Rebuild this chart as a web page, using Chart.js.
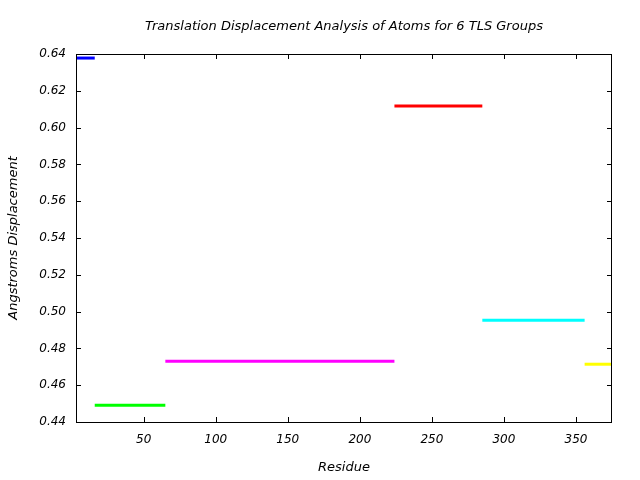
<!DOCTYPE html>
<html>
<head>
<meta charset="utf-8">
<script src="https://cdn.jsdelivr.net/npm/chart.js@4/dist/chart.umd.min.js"></script>
<style>
  html, body { margin: 0; padding: 0; background: #fff; }
  #chart { display: block; }
</style>
</head>
<body>
<canvas id="chart" width="640" height="480"></canvas>
<script>
// TLS group segments: residue range and displacement
const groupStart = [3, 16, 65, 224, 285, 356];
const groupEnd = [16, 65, 224, 285, 356, 375];
const displacement = [0.6378, 0.4491, 0.4730, 0.6117, 0.4953, 0.4714];
const groupColors = ['#0000ff', '#00ff00', '#ff00ff', '#ff0000', '#00ffff', '#ffff00'];

const xTicks = [50, 100, 150, 200, 250, 300, 350];
const yTicks = [0.44, 0.46, 0.48, 0.50, 0.52, 0.54, 0.56, 0.58, 0.60, 0.62, 0.64];

const titleText = 'Translation Displacement Analysis of Atoms for 6 TLS Groups';
const FONT = "'DejaVu Sans', sans-serif";

const datasets = displacement.map((y, i) => ({
    data: [{ x: groupStart[i], y: y }, { x: groupEnd[i], y: y }],
    borderColor: groupColors[i],
    borderWidth: 3,
    borderCapStyle: 'butt',
    pointRadius: 0,
    fill: false
}));

// frame, inward ticks on all four sides, and the title
const framePlugin = {
    id: 'frame',
    afterDraw(chart) {
        const ctx = chart.ctx;
        const a = chart.chartArea;
        const xs = chart.scales.x, ys = chart.scales.y;
        ctx.save();
        ctx.strokeStyle = '#000';
        ctx.lineWidth = 1;
        ctx.strokeRect(a.left + 0.5, a.top + 0.5, a.right - a.left - 1, a.bottom - a.top);
        ctx.beginPath();
        xTicks.forEach(v => {
            const px = Math.round(xs.getPixelForValue(v)) + 0.5;
            ctx.moveTo(px, a.bottom); ctx.lineTo(px, a.bottom - 5);
            ctx.moveTo(px, a.top); ctx.lineTo(px, a.top + 5);
        });
        yTicks.forEach(v => {
            const py = Math.round(ys.getPixelForValue(v)) + 0.5;
            ctx.moveTo(a.left, py); ctx.lineTo(a.left + 5, py);
            ctx.moveTo(a.right, py); ctx.lineTo(a.right - 5, py);
        });
        ctx.stroke();

        ctx.fillStyle = '#000';
        ctx.font = 'italic 13px ' + FONT;
        ctx.textAlign = 'center';
        ctx.textBaseline = 'middle';
        ctx.fillText(titleText, (a.left + a.right) / 2, 27);
        ctx.restore();
    }
};

new Chart(document.getElementById('chart'), {
    type: 'line',
    data: { datasets: datasets },
    options: {
        responsive: false,
        animation: false,
        layout: { padding: { top: 54, right: 28, left: 0, bottom: 0 } },
        plugins: {
            legend: { display: false },
            title: { display: false },
            tooltip: { enabled: false }
        },
        scales: {
            x: {
                type: 'linear',
                min: 3,
                max: 375,
                afterBuildTicks: axis => { axis.ticks = xTicks.map(v => ({ value: v })); },
                afterFit: axis => { axis.height = 58; },
                grid: { display: false, drawTicks: false },
                border: { display: false },
                ticks: {
                    padding: 11,
                    color: '#000',
                    font: { family: FONT, size: 12, style: 'italic' },
                    maxRotation: 0
                },
                title: {
                    display: true,
                    text: 'Residue',
                    color: '#000',
                    font: { family: FONT, size: 13, style: 'italic' },
                    padding: { top: 0, bottom: 5 }
                }
            },
            y: {
                type: 'linear',
                min: 0.44,
                max: 0.64,
                afterBuildTicks: axis => { axis.ticks = yTicks.map(v => ({ value: v })); },
                afterFit: axis => { axis.width = 76; },
                grid: { display: false, drawTicks: false },
                border: { display: false },
                ticks: {
                    padding: 10,
                    color: '#000',
                    font: { family: FONT, size: 12, style: 'italic' },
                    callback: v => v.toFixed(2)
                },
                title: {
                    display: true,
                    text: 'Angstroms Displacement',
                    color: '#000',
                    font: { family: FONT, size: 13, style: 'italic' },
                    padding: { top: 6, bottom: 0 }
                }
            }
        }
    },
    plugins: [framePlugin]
});
</script>
</body>
</html>
